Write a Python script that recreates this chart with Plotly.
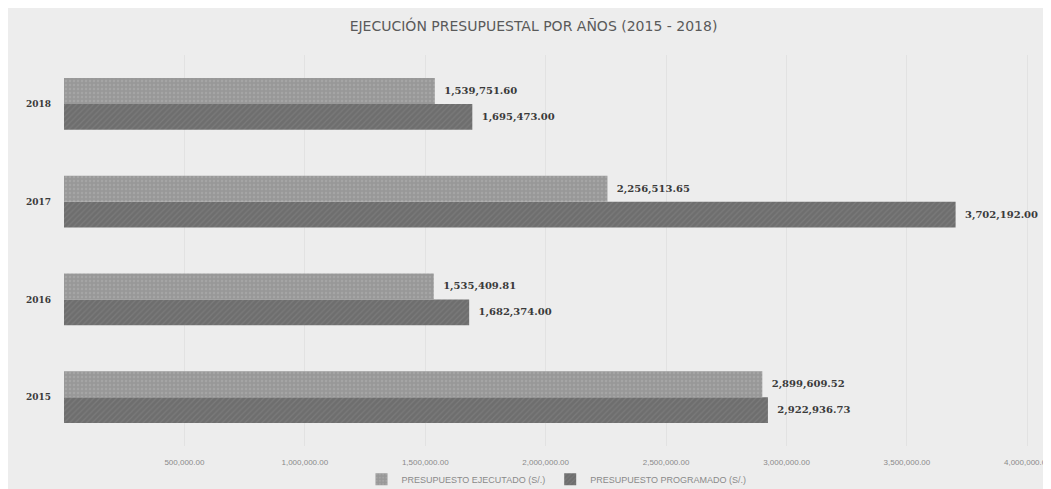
import plotly.graph_objects as go

# Datos
years = ['2015', '2016', '2017', '2018']
ejecutado = [2899609.52, 1535409.81, 2256513.65, 1539751.60]
programado = [2922936.73, 1682374.00, 3702192.00, 1695473.00]
tick_vals = [500000, 1000000, 1500000, 2000000, 2500000, 3000000, 3500000, 4000000]
tick_text = ['500,000.00', '1,000,000.00', '1,500,000.00', '2,000,000.00',
             '2,500,000.00', '3,000,000.00', '3,500,000.00', '4,000,000.00']

label_font = dict(family='DejaVu Serif', size=10, color='#3a3a3a')
pad = '\u00a0\u00a0'

fig = go.Figure()

fig.add_trace(go.Bar(
    y=years,
    x=programado,
    orientation='h',
    name='PRESUPUESTO PROGRAMADO (S/.)',
    marker=dict(color='#6e6e6e', line=dict(width=0),
                pattern=dict(shape='/', fgcolor='#888888', size=4, solidity=0.3)),
    text=[f'{pad}<b>{v:,.2f}</b>' for v in programado],
    textposition='outside',
    textfont=label_font,
    cliponaxis=False,
    legendrank=2,
))

fig.add_trace(go.Bar(
    y=years,
    x=ejecutado,
    orientation='h',
    name='PRESUPUESTO EJECUTADO (S/.)',
    marker=dict(color='#989898', line=dict(width=0),
                pattern=dict(shape='.', fgcolor='#b2b2b2', size=4, solidity=0.3)),
    text=[f'{pad}<b>{v:,.2f}</b>' for v in ejecutado],
    textposition='outside',
    textfont=label_font,
    cliponaxis=False,
    legendrank=1,
))

fig.update_layout(
    width=1051,
    height=489,
    barmode='group',
    bargap=0.47,
    bargroupgap=0,
    paper_bgcolor='#ededed',
    plot_bgcolor='#ededed',
    margin=dict(l=56, r=10, t=47, b=51, autoexpand=False),
    title=dict(
        text='EJECUCIÓN PRESUPUESTAL POR AÑOS (2015 - 2018)',
        x=0.5, xanchor='center', y=0.963, yanchor='middle',
        font=dict(family='DejaVu Sans', size=14, color='#5a5a5a'),
    ),
    xaxis=dict(
        range=[0, 4090000],
        tickvals=tick_vals,
        ticktext=tick_text,
        tickfont=dict(family='Liberation Sans', size=8, color='#8a8a8a'),
        ticklabelstandoff=10,
        showgrid=True,
        gridcolor='#e2e2e2',
        zeroline=False,
        showline=False,
        automargin=False,
    ),
    yaxis=dict(
        tickfont=dict(family='DejaVu Serif', size=9, color='#3a3a3a'),
        tickprefix='<b>', ticksuffix='</b>',
        showgrid=False,
        showline=False,
        ticks='',
        ticklabelstandoff=12,
        automargin=False,
    ),
    legend=dict(
        orientation='h',
        x=0.5, xanchor='center',
        y=-0.085, yanchor='middle',
        font=dict(family='Liberation Sans', size=9, color='#8a8a8a'),
        itemwidth=30,
        bgcolor='rgba(0,0,0,0)',
    ),
)

fig.write_html('out.html')
